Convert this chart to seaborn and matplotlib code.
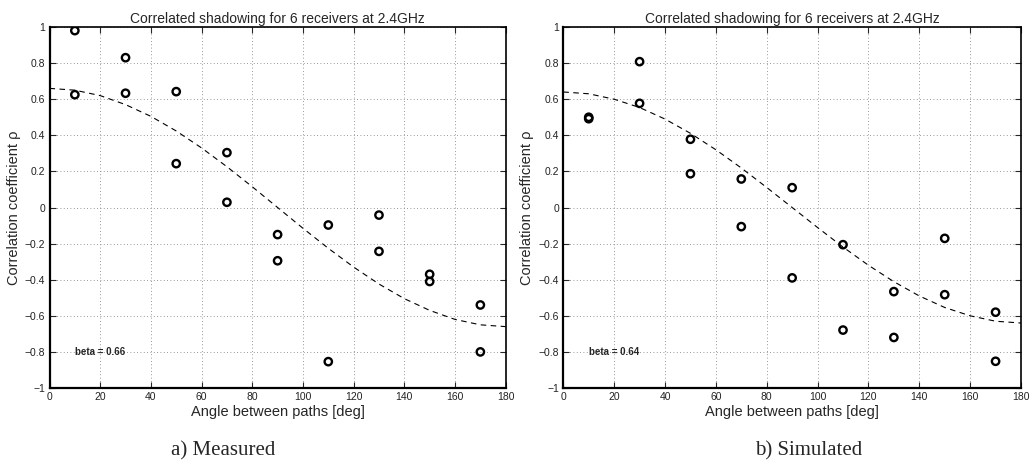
import numpy as np
import pandas as pd
import seaborn as sns
from matplotlib import pyplot as plt

# Angles of the receiver pairs (deg)
meas_angle = [10, 10, 30, 30, 50, 50, 70, 70, 90, 90, 110, 110, 130, 130, 150, 150, 170, 170]
meas_rho = [0.98, 0.625, 0.83, 0.633, 0.642, 0.243, 0.304, 0.029, -0.15, -0.295,
            -0.097, -0.854, -0.042, -0.243, -0.37, -0.41, -0.54, -0.80]

sim_angle = [10, 10, 30, 30, 50, 50, 70, 70, 90, 90, 110, 110, 130, 130, 150, 150, 170, 170]
sim_rho = [0.50, 0.492, 0.808, 0.577, 0.378, 0.187, 0.158, -0.106, 0.11, -0.39,
           -0.206, -0.679, -0.466, -0.72, -0.171, -0.483, -0.58, -0.852]

# Fitted curves
curve_angle = [0, 10, 20, 30, 40, 50, 60, 70, 80, 90, 100, 110, 120, 130, 140, 150, 160, 170, 180]
meas_curve = [0.66, 0.65, 0.62, 0.57, 0.505, 0.424, 0.33, 0.226, 0.115, 0.0,
              -0.115, -0.226, -0.33, -0.424, -0.505, -0.57, -0.62, -0.65, -0.66]
sim_curve = [0.64, 0.63, 0.60, 0.554, 0.49, 0.411, 0.32, 0.219, 0.111, 0.0,
             -0.111, -0.219, -0.32, -0.411, -0.49, -0.554, -0.60, -0.63, -0.64]

betas = ["0.66", "0.64"]
captions = ["a) Measured", "b) Simulated"]

x_ticks = [0, 20, 40, 60, 80, 100, 120, 140, 160, 180]
y_ticks = [-1, -0.8, -0.6, -0.4, -0.2, 0, 0.2, 0.4, 0.6, 0.8, 1]
y_labels = ["\u22121", "\u22120.8", "\u22120.6", "\u22120.4", "\u22120.2", "0",
            "0.2", "0.4", "0.6", "0.8", "1"]

sns.set_style("ticks")
plt.rcParams["font.family"] = ["Liberation Sans", "DejaVu Sans"]

fig = plt.figure(figsize=(10.31, 4.72), dpi=100)
W, H = 1031, 472
boxes = [(49.5, 505.7), (563.3, 1021)]
top, bottom = 27, 388

panels = [
    (meas_angle, meas_rho, meas_curve),
    (sim_angle, sim_rho, sim_curve),
]

for i, (angles, rhos, curve) in enumerate(panels):
    x0, x1 = boxes[i]
    ax = fig.add_axes([x0 / W, 1 - bottom / H, (x1 - x0) / W, (bottom - top) / H])

    line_df = pd.DataFrame({"angle": curve_angle, "rho": curve})
    sns.lineplot(data=line_df, x="angle", y="rho", ax=ax, color="black",
                 linestyle=(0, (5, 4)), linewidth=0.8)

    pts = pd.DataFrame({"angle": angles, "rho": rhos})
    sns.scatterplot(data=pts, x="angle", y="rho", ax=ax, marker="o",
                    facecolor="none", edgecolor="black", linewidth=1.7, s=28, zorder=3)

    ax.set_xlim(0, 180)
    ax.set_ylim(-1, 1)
    ax.set_xticks(x_ticks)
    ax.set_yticks(y_ticks)
    ax.set_yticklabels(y_labels)
    ax.grid(True, linestyle=(0, (1, 3)), color="#777777", linewidth=0.6)
    ax.tick_params(direction="in", top=True, right=True, labelsize=7.5,
                   length=4, width=0.8, pad=3, labelcolor="#222222")
    for name, s in ax.spines.items():
        s.set_linewidth(1.6 if name in ("left", "bottom") else 1.2)
        s.set_color("black")

    ax.set_title("Correlated shadowing for 6 receivers at 2.4GHz", fontsize=10, pad=3)
    ax.set_xlabel("Angle between paths [deg]", fontsize=10.5, labelpad=2)
    ax.set_ylabel("Correlation coefficient \u03c1", fontsize=10.5, labelpad=3)

    ax.text(10, -0.8, f"beta = {betas[i]}", fontsize=7, fontweight="bold",
            va="center", ha="left")

fig.text(223 / W, 1 - 451 / H, captions[0], fontsize=15, family="Liberation Serif",
         ha="center", va="center")
fig.text(809 / W, 1 - 451 / H, captions[1], fontsize=15, family="Liberation Serif",
         ha="center", va="center")

fig.savefig("out.png", dpi=100)
plt.close()
